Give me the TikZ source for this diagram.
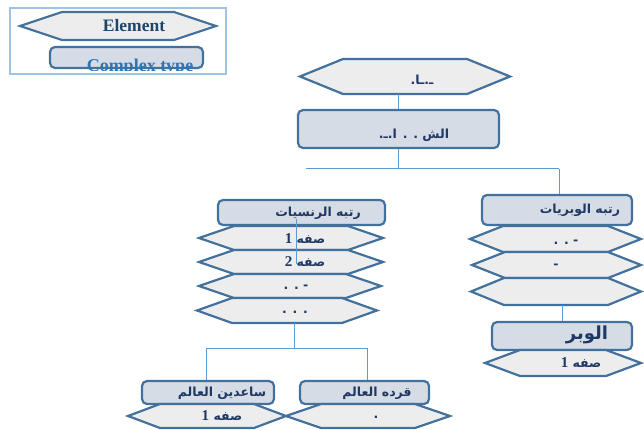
\documentclass[tikz,border=0pt]{standalone}
\usepackage{fontspec}
\setmainfont{Liberation Serif}
\newfontfamily\arabicfont[Script=Arabic,BoldFont={DejaVu Sans Bold}]{DejaVu Sans}
\TeXXeTstate=1
\definecolor{hexborder}{HTML}{41719C}
\definecolor{boxfill}{HTML}{D6DCE5}
\definecolor{hexfill}{HTML}{EDEDED}
\definecolor{txtblue}{HTML}{1F3864}
\definecolor{connblue}{HTML}{5B9BD5}
\definecolor{framecol}{HTML}{9DC3E6}
\definecolor{legblue}{HTML}{2E75B6}
\tikzset{
  hexline/.style={draw=hexborder, fill=hexfill, line width=2.2pt, line join=miter},
  cbox/.style={draw=hexborder, fill=boxfill, line width=2.2pt, rounded corners=5pt, inner sep=0pt},
  artext/.style={text=txtblue, font=\arabicfont\bfseries\fontsize{12.5}{13}\selectfont, inner sep=0pt},
  conn/.style={draw=connblue, line width=1pt},
}
% name, x1, x2, ytop, ybot, inset
\newcommand\HexShape[6]{%
  \draw[hexline] (#2,{(#4+#5)/2}) -- ({#2+#6},#4) -- ({#3-#6},#4) -- (#3,{(#4+#5)/2}) -- ({#3-#6},#5) -- ({#2+#6},#5) -- cycle;
  \coordinate (#1) at ({(#2+#3)/2},{(#4+#5)/2});
  \coordinate (#1-s) at ({(#2+#3)/2},#5);
}
\newcommand\NumR[1]{{\rmfamily\bfseries\fontsize{15}{15}\selectfont #1}}
\begin{document}
\begin{tikzpicture}[x=1pt,y=-1pt]
\useasboundingbox (0,0) rectangle (644,430);
\fill[white] (0,0) rectangle (644,430);

% ---------- legend ----------
\draw[draw=framecol, line width=1.5pt] (10,8) rectangle (226,74);
\HexShape{legHex}{20}{216}{12}{40}{42}
\node[text=legblue!60!black, font=\bfseries\fontsize{17.5}{18}\selectfont, inner sep=0pt] (legEl) at (134,26) {Element};
\node[cbox, minimum width=153, minimum height=21] (legBox) at (126.5,57.5) {};
\begin{scope}
  \clip (10,8) rectangle (226,70.5);
  \node[text=legblue, font=\bfseries\fontsize{18}{18}\selectfont, inner sep=0pt, anchor=base] (legCt) at (140,72) {Complex type};
\end{scope}

% ---------- root ----------
\HexShape{root}{300}{510}{59}{94}{43}
\node[artext] (rootT) at (422,80) {\beginR ـ.ـا.\endR};
\node[cbox, minimum width=201, minimum height=38] (box1) at (398.5,129) {};
\node[artext] (box1T) at (414,135) {\beginR الش . . ا.ـ.\endR};
\draw[conn] (box1.north |- root-s) -- (box1.north);

% ---------- branch lines ----------
\coordinate (hl) at (306,169);
\coordinate (hr) at (559,169);
\draw[conn] (box1.south) -- (box1.south |- hl);
\draw[conn] (hl) -- (hr);

% ---------- right stack ----------
\node[cbox, minimum width=150, minimum height=30] (rbox) at (557,210) {};
\draw[conn] (hr) -- (hr |- rbox.north);
\node[artext] (rboxT) at (580,210) {\beginR رتبه الوبريات\endR};
\HexShape{rh1}{470}{641}{226}{252}{33}
\HexShape{rh2}{472}{641}{252}{278}{33}
\HexShape{rh3}{471}{641}{278}{305}{33}
\node[artext] (rh1T) at (566,242) {\beginR - . .\endR};
\node[artext] (rh2T) at (556,266) {-};

\node[cbox, minimum width=140, minimum height=28] (wbox) at (562,336) {};
\draw[conn] (wbox.north |- rh3-s) -- (wbox.north);
\node[text=txtblue, font=\arabicfont\bfseries\fontsize{18}{18}\selectfont, inner sep=0pt] (wboxT) at (587,335) {\beginR الوبر\endR};
\HexShape{wh1}{485}{641}{350}{376}{35}
\node[artext] (wh1T) at (581,363) {\beginR صفه \NumR{1}\endR};

% ---------- left stack ----------
\node[cbox, minimum width=167, minimum height=25] (lbox) at (301.5,212.5) {};
\node[artext] (lboxT) at (318,213) {\beginR رتبه الرنسيات\endR};
\HexShape{lh1}{199}{383}{226}{250}{35}
\HexShape{lh2}{199}{383}{250}{274}{35}
\HexShape{lh3}{199}{381}{274}{298}{35}
\HexShape{lh4}{197}{377}{298}{323}{35}
\node[artext] (lh1T) at (305,239) {\beginR صفه \NumR{1}\endR};
\node[artext] (lh2T) at (305,262) {\beginR صفه \NumR{2}\endR};
\node[artext] (lh3T) at (296,287) {\beginR - . .\endR};
\node[artext] (lh4T) at (295,312) {. . .};
\coordinate (lx) at (296,219);
\draw[conn] (lx) -- ++(0,45);

% ---------- bottom branches ----------
\coordinate (bl) at (206,348);
\coordinate (br) at (367,348);
\draw[conn] (lh4-s -| 294,0) -- (294,348);
\draw[conn] (bl) -- (br);
\node[cbox, minimum width=132, minimum height=23] (sbox) at (208,392.5) {};
\node[cbox, minimum width=129, minimum height=23] (qbox) at (364.5,392.5) {};
\draw[conn] (bl) -- (bl |- sbox.north);
\draw[conn] (br) -- (br |- qbox.north);
\node[artext] (sboxT) at (222,393) {\beginR ساعدين العالم\endR};
\node[artext] (qboxT) at (377,393) {\beginR قرده العالم\endR};
\HexShape{sh1}{128}{286}{404}{428}{32}
\HexShape{qh1}{286}{450}{404}{428}{35}
\node[artext] (sh1T) at (222,416) {\beginR صفه \NumR{1}\endR};
\node[artext] (qh1T) at (376,417) {.};
\end{tikzpicture}
\end{document}
